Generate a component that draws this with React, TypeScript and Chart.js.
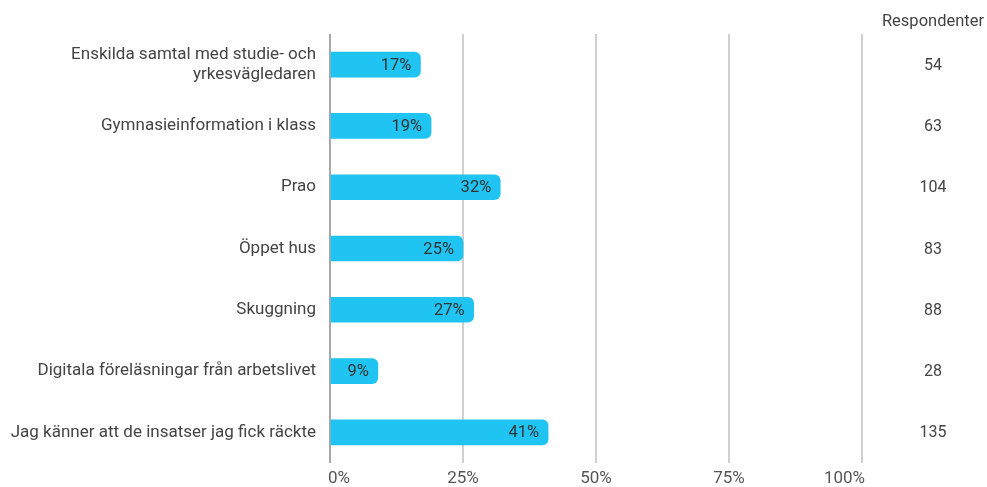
import React, { useEffect, useRef } from "react";
import { Chart, registerables } from "chart.js";

Chart.register(...registerables);

const categories: (string | string[])[] = [
  ["Enskilda samtal med studie- och", "yrkesvägledaren"],
  "Gymnasieinformation i klass",
  "Prao",
  "Öppet hus",
  "Skuggning",
  "Digitala föreläsningar från arbetslivet",
  "Jag känner att de insatser jag fick räckte",
];
const percentValues = [17, 19, 32, 25, 27, 9, 41];
const respondents = [54, 63, 104, 83, 88, 28, 135];
const respondentHeader = "Respondenter";
const xTickValues = [0, 25, 50, 75, 100];
const xTickLabels = ["0%", "25%", "50%", "75%", "100%"];

const FONT = "Roboto, 'Noto Sans', sans-serif";

export default function App() {
  const ref = useRef<HTMLCanvasElement | null>(null);

  useEffect(() => {
    if (!ref.current) return;

    const extrasPlugin = {
      id: "extras",
      afterDatasetsDraw(chart: any) {
        const ctx = chart.ctx;
        const meta = chart.getDatasetMeta(0);
        ctx.save();
        // bar value labels
        ctx.font = `16.5px ${FONT}`;
        ctx.fillStyle = "#333333";
        ctx.textAlign = "right";
        ctx.textBaseline = "middle";
        meta.data.forEach((el: any, i: number) => {
          ctx.fillText(`${percentValues[i]}%`, el.x - 9, el.y + 1);
        });
        // respondent column
        const colX = 933;
        ctx.textAlign = "center";
        ctx.fillStyle = "#444444";
        ctx.font = `16.5px ${FONT}`;
        ctx.fillText(respondentHeader, colX, 22);
        ctx.font = `16px ${FONT}`;
        meta.data.forEach((el: any, i: number) => {
          ctx.fillText(String(respondents[i]), colX, el.y + 1);
        });
        // x tick labels
        const xs = chart.scales.x;
        ctx.font = `17px ${FONT}`;
        ctx.fillStyle = "#555555";
        xTickValues.forEach((v, i) => {
          const px = xs.getPixelForValue(v);
          ctx.textAlign = i === 0 ? "left" : i === xTickValues.length - 1 ? "right" : "center";
          ctx.fillText(xTickLabels[i], i === 0 ? px - 2 : i === xTickValues.length - 1 ? px + 3 : px, 479);
        });
        ctx.restore();
      },
    };

    const chart = new Chart(ref.current, {
      type: "bar",
      data: {
        labels: categories,
        datasets: [
          {
            data: percentValues,
            backgroundColor: "#1FC4F2",
            borderWidth: 0,
            borderRadius: { topLeft: 0, bottomLeft: 0, topRight: 6, bottomRight: 6 },
            borderSkipped: false,
            barThickness: 25,
          },
        ],
      },
      options: {
        indexAxis: "y",
        animation: false,
        responsive: false,
        maintainAspectRatio: false,
        layout: { padding: { top: 34, right: 125, bottom: 24, left: 0 } },
        plugins: {
          legend: { display: false },
          tooltip: { enabled: false },
        },
        scales: {
          x: {
            min: 0,
            max: 100,
            afterBuildTicks: (scale: any) => {
              scale.ticks = xTickValues.map((v) => ({ value: v }));
            },
            afterFit: (scale: any) => {
              scale.height = 0;
              scale.paddingLeft = 0;
              scale.paddingRight = 0;
            },
            ticks: { display: false },
            border: { display: false },
            grid: {
              drawTicks: false,
              lineWidth: 2,
              color: (c: any) => (c.tick && c.tick.value === 0 ? "#A8A8A8" : "#D0D0D0"),
            },
          },
          y: {
            afterFit: (scale: any) => {
              scale.width = 330;
              scale.paddingTop = 0;
              scale.paddingBottom = 0;
            },
            border: { display: false },
            grid: { display: false, drawTicks: false },
            ticks: {
              padding: 14,
              color: "#444444",
              font: { family: FONT, size: 17, lineHeight: 1.2 },
            },
          },
        },
      },
      plugins: [extrasPlugin],
    });

    return () => chart.destroy();
  }, []);

  return (
    <div style={{ position: "absolute", left: 0, top: 0, width: 987, height: 487, background: "#fff" }}>
      <canvas ref={ref} width={987} height={487} style={{ width: 987, height: 487 }} />
    </div>
  );
}
